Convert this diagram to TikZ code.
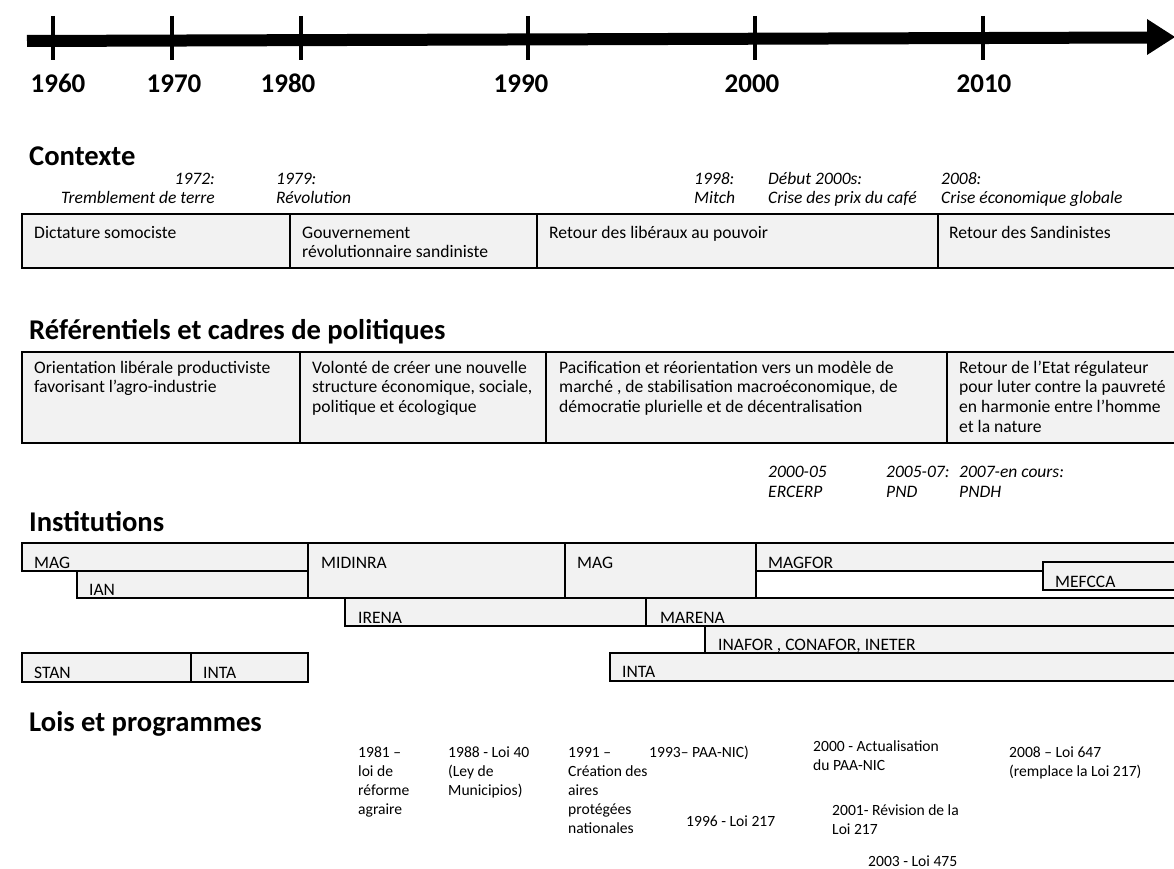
\documentclass[tikz,border=0pt]{standalone}
\usepackage{fontspec}
\setmainfont{Carlito}
\newcommand\mylines[1]{\begin{tabular}[t]{@{}l@{}}#1\end{tabular}}
\newcommand\mylinesr[1]{\begin{tabular}[t]{@{}r@{}}#1\end{tabular}}
\definecolor{boxfill}{HTML}{F2F2F2}
\begin{document}
\begin{tikzpicture}[x=1pt,y=-1pt,
  box/.style={draw=black, line width=2.5pt, fill=boxfill},
  hdr/.style={anchor=base west, inner sep=0, font=\fontsize{28.6}{32}\selectfont\bfseries},
  yr/.style={anchor=base, inner sep=0, font=\fontsize{27}{30}\selectfont\bfseries},
  evt/.style={anchor=base west, inner sep=0, font=\fontsize{17.5}{20}\selectfont\itshape},
  txt/.style={anchor=base west, inner sep=0, font=\fontsize{17.6}{19.8}\selectfont},
  lab/.style={anchor=base west, inner sep=0, font=\fontsize{17.5}{21}\selectfont},
  law/.style={anchor=base west, inner sep=0, font=\fontsize{15.6}{19}\selectfont},
  tick/.style={line width=4pt},
]
\useasboundingbox (0,0) rectangle (1174,869);
\clip (0,0) rectangle (1174,869);

% timeline axis
\draw[line width=12pt] (27,41) -- (1150,37.5);
\fill (1147,19) -- (1175,37) -- (1147,55) -- cycle;
\foreach \x in {53,172,301,528,755,983} \draw[tick] (\x,16) -- (\x,60);
\node[yr] (y1960) at (58,93) {1960};
\node[yr] (y1970) at (174,93) {1970};
\node[yr] (y1980) at (288,93) {1980};
\node[yr] (y1990) at (521,93) {1990};
\node[yr] (y2000) at (752,93) {2000};
\node[yr] (y2010) at (984,93) {2010};

% Contexte
\node[hdr] (hctx) at (29,166) {Contexte};
\node[evt, anchor=base east] (e1972) at (215,184) {\mylinesr{1972:\\Tremblement de terre}};
\node[evt] (e1979) at (276,184) {\mylines{1979:\\Révolution}};
\node[evt] (e1998) at (694,184) {\mylines{1998:\\Mitch}};
\node[evt] (e2000) at (768,184) {\mylines{Début 2000s:\\Crise des prix du café}};
\node[evt] (e2008) at (941,184) {\mylines{2008:\\Crise économique globale}};
\draw[box] (22,214) rectangle (290,268);
\draw[box] (290,214) rectangle (537,268);
\draw[box] (537,214) rectangle (938,268);
\draw[box] (938,214) rectangle (1185,268);
\node[txt] (c1) at (34,238) {Dictature somociste};
\node[txt] (c2) at (302,238) {\mylines{Gouvernement\\révolutionnaire sandiniste}};
\node[txt] (c3) at (549,238) {Retour des libéraux au pouvoir};
\node[txt] (c4) at (949,238) {Retour des Sandinistes};

% Referentiels
\node[hdr] (href) at (29,339) {Référentiels et cadres de politiques};
\draw[box] (22,352) rectangle (300,443);
\draw[box] (300,352) rectangle (546,443);
\draw[box] (546,352) rectangle (947,443);
\draw[box] (947,352) rectangle (1185,443);
\node[txt] (r1) at (34,373) {\mylines{Orientation libérale productiviste\\favorisant l’agro-industrie}};
\node[txt] (r2) at (312,373) {\mylines{Volonté de créer une nouvelle\\structure économique, sociale,\\politique et écologique}};
\node[txt] (r3) at (559,373) {\mylines{Pacification et réorientation vers un modèle de\\marché , de stabilisation macroéconomique, de\\démocratie plurielle et de décentralisation}};
\node[txt] (r4) at (959,373) {\mylines{Retour de l’Etat régulateur\\pour luter contre la pauvreté\\en harmonie entre l’homme\\et la nature}};
\node[evt] (p1) at (768,477) {\mylines{2000-05\\ERCERP}};
\node[evt] (p2) at (886,477) {\mylines{2005-07:\\PND}};
\node[evt] (p3) at (959,477) {\mylines{2007-en cours:\\PNDH}};

% Institutions
\node[hdr] (hinst) at (29,531) {Institutions};
\draw[box] (22,543) rectangle (308,571);
\draw[box] (77,571) rectangle (308,598);
\draw[box] (308,543) rectangle (565,598);
\draw[box] (565,543) rectangle (756,598);
\draw[box] (756,543) rectangle (1185,571);
\draw[box] (1043,562) rectangle (1185,590);
\draw[box] (345,598) rectangle (646,626);
\draw[box] (646,598) rectangle (1185,626);
\draw[box] (705,626) rectangle (1185,653);
\draw[box] (610,653) rectangle (1185,681);
\draw[box] (22,653) rectangle (191,682);
\draw[box] (191,653) rectangle (308,682);
\node[lab] (iMAG) at (34,568) {MAG};
\node[lab] (iIAN) at (89,595) {IAN};
\node[lab] (iMID) at (321,568) {MIDINRA};
\node[lab] (iMAGb) at (577,568) {MAG};
\node[lab] (iMAGFOR) at (768,568) {MAGFOR};
\node[lab] (iMEF) at (1055,587) {MEFCCA};
\node[lab] (iIRENA) at (358,623) {IRENA};
\node[lab] (iMARENA) at (660,623) {MARENA};
\node[lab] (iINAFOR) at (718,650) {INAFOR , CONAFOR, INETER};
\node[lab] (iINTAb) at (622,677) {INTA};
\node[lab] (iSTAN) at (34,678) {STAN};
\node[lab] (iINTA) at (203,678) {INTA};

% Lois et programmes
\node[hdr] (hlois) at (29,731) {Lois et programmes};
\node[law] (l1981) at (358,757) {\mylines{1981 –\\loi de\\réforme\\agraire}};
\node[law] (l1988) at (448,757) {\mylines{1988 - Loi 40\\(Ley de\\Municipios)}};
\node[law] (l1991) at (568,757) {\mylines{1991 –\\Création des\\aires\\protégées\\nationales}};
\node[law] (l1993) at (649,757) {1993– PAA-NIC)};
\node[law] (l1996) at (686,826) {1996 - Loi 217};
\node[law] (l2000) at (813,751) {\mylines{2000 - Actualisation\\du PAA-NIC}};
\node[law] (l2008) at (1009,757) {\mylines{2008 – Loi 647\\(remplace la Loi 217)}};
\node[law] (l2001) at (832,815) {\mylines{2001- Révision de la\\Loi 217}};
\node[law] (l2003) at (868,866) {2003 - Loi 475};
\end{tikzpicture}
\end{document}
